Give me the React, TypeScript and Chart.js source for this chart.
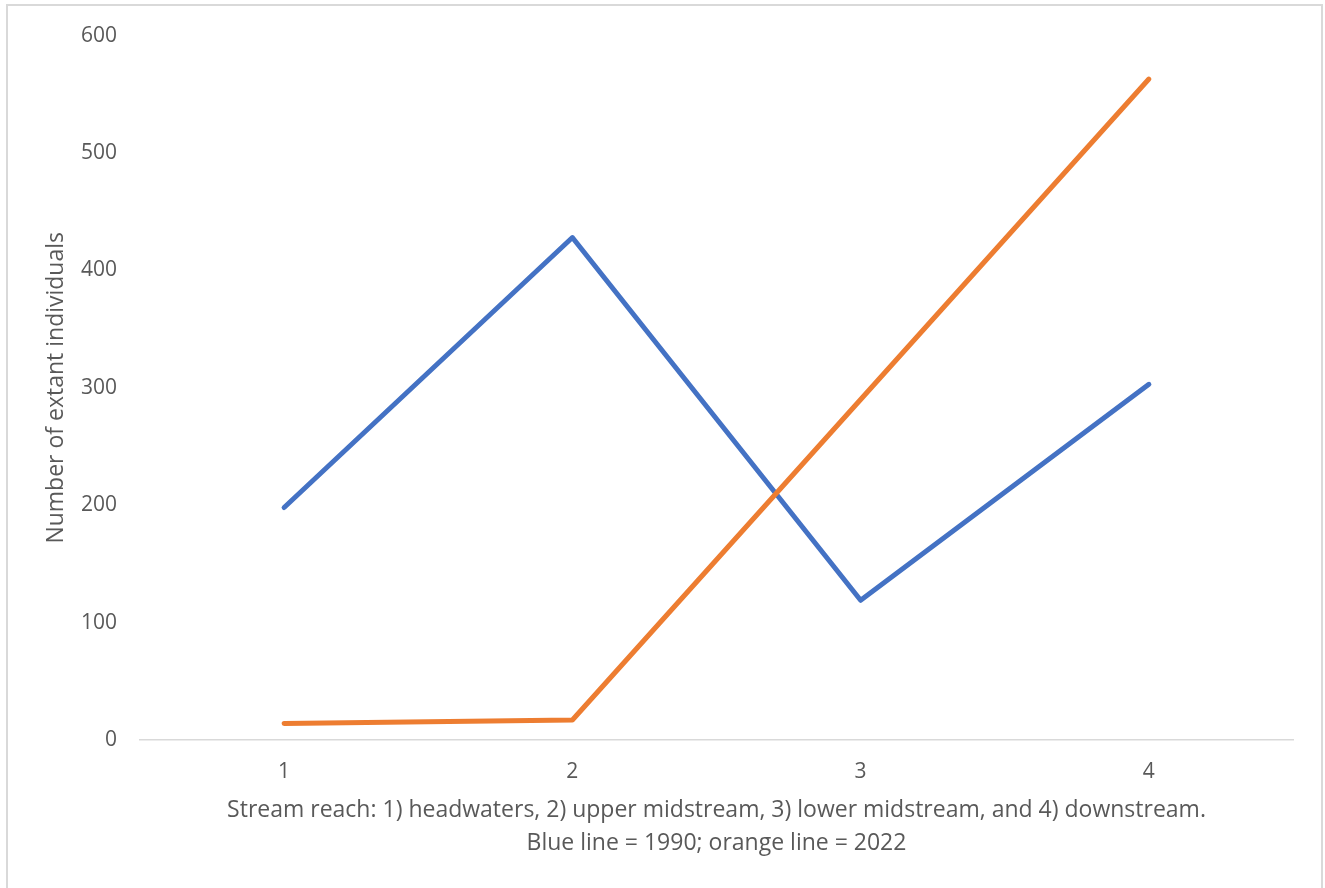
import React, { useEffect, useRef } from "react";
import { Chart, registerables } from "chart.js";

Chart.register(...registerables);

const categories = ["1", "2", "3", "4"];
const series1990 = [198, 428, 119, 303];
const series2022 = [14, 17, 290, 563];
const yTitle = "Number of extant individuals";
const xTitle = [
  "Stream reach: 1) headwaters, 2) upper midstream, 3) lower midstream, and 4) downstream.",
  "Blue line = 1990; orange line = 2022",
];

const FONT = "'Open Sans', 'Noto Sans', sans-serif";
const TEXT = "#595959";

export default function App() {
  const ref = useRef<HTMLCanvasElement | null>(null);
  useEffect(() => {
    if (!ref.current) return;
    const chart = new Chart(ref.current, {
      type: "line",
      data: {
        labels: categories,
        datasets: [
          {
            label: "1990",
            data: series1990,
            borderColor: "#4472C4",
            backgroundColor: "#4472C4",
            borderWidth: 5,
            pointRadius: 0,
            borderCapStyle: "round",
            borderJoinStyle: "round",
            tension: 0,
            order: 1,
          },
          {
            label: "2022",
            data: series2022,
            borderColor: "#ED7D31",
            backgroundColor: "#ED7D31",
            borderWidth: 5,
            pointRadius: 0,
            borderCapStyle: "round",
            borderJoinStyle: "round",
            tension: 0,
            order: 0,
          },
        ],
      },
      options: {
        animation: false,
        responsive: false,
        maintainAspectRatio: false,
        layout: { padding: { left: 0, right: 32, top: 33, bottom: 0 } },
        plugins: { legend: { display: false }, tooltip: { enabled: false } },
        scales: {
          x: {
            offset: true,
            grid: { display: false, drawTicks: false },
            border: { display: true, color: "#D9D9D9", width: 1.5 },
            ticks: { color: TEXT, font: { family: FONT, size: 21 }, padding: 19 },
            title: {
              display: true,
              text: xTitle,
              color: TEXT,
              font: { family: FONT, size: 23, lineHeight: 33 / 23 },
              padding: { top: 0, bottom: 28 },
            },
            afterFit: (s: any) => {
              s.height = 148;
            },
          },
          y: {
            min: 0,
            max: 600,
            ticks: { stepSize: 100, color: TEXT, font: { family: FONT, size: 21 }, padding: 23 },
            grid: { display: false, drawTicks: false },
            border: { display: false },
            title: {
              display: true,
              text: yTitle,
              color: TEXT,
              font: { family: FONT, size: 23 },
              padding: { top: 43, bottom: 0 },
            },
            afterFit: (s: any) => {
              s.width = 140;
            },
          },
        },
      },
    });
    return () => chart.destroy();
  }, []);
  return (
    <div style={{ position: "fixed", left: 0, top: 0, width: 1325, height: 888, background: "#fff" }}>
      <div
        style={{
          position: "absolute",
          left: 6,
          top: 4,
          width: 1317,
          height: 900,
          border: "2px solid #D9D9D9",
          boxSizing: "border-box",
        }}
      />
      <canvas ref={ref} width={1325} height={888} style={{ position: "absolute", left: 0, top: 0 }} />
    </div>
  );
}
